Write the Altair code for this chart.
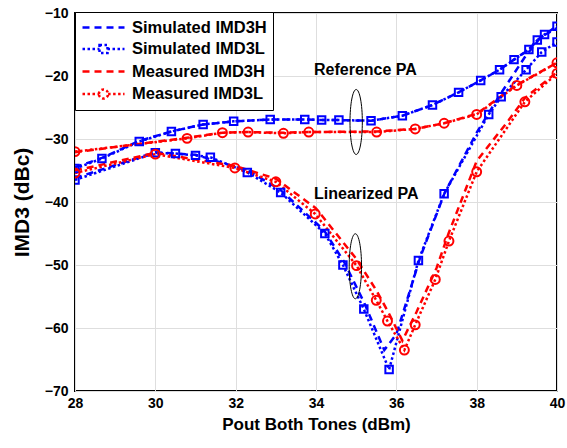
import altair as alt
import pandas as pd

series_names = ["Simulated IMD3H", "Simulated IMD3L", "Measured IMD3H", "Measured IMD3L"]
series_colors = ["#0000ff", "#0000ff", "#ff0000", "#ff0000"]
series_dash = [[7, 5], [2.5, 2.5], [7, 5], [2.5, 2.5]]
# legend glyphs: a long line segment (extending to the right of the unit box) with marker
legend_paths = [
    "M-1,0L4.25,0",
    "M-1,0L1.125,0M2.125,0L4.25,0M1.125,-0.5L2.125,-0.5L2.125,0.5L1.125,0.5Z",
    "M-1,0L4.25,0",
    "M-1,0L1.05,0M2.2,0L4.25,0M1.05,0A0.575,0.575,0,1,1,2.2,0A0.575,0.575,0,1,1,1.05,0Z",
]

# ---- Reference PA ----
ref_sim_x = [28, 28.67, 29.6, 30.4, 31.19, 31.95, 32.86, 33.72, 34.14, 34.57, 35.37,
             36.15, 36.9, 37.55, 38.1, 38.57, 38.93, 39.3, 39.51, 39.69, 40]
ref_sim_l = [-34.7, -33.1, -30.4, -28.8, -27.7, -27.2, -26.9, -26.9, -27.0, -27.0, -27.1,
             -26.3, -24.6, -22.6, -20.7, -19.0, -17.4, -15.8, -14.3, -13.4, -12.1]
ref_sim_h = [-34.5, -33.0, -30.3, -28.8, -27.7, -27.2, -26.9, -26.9, -27.0, -27.0, -27.1,
             -26.3, -24.6, -22.6, -20.7, -19.0, -17.4, -15.8, -14.3, -13.4, -12.1]
ref_meas_x = [28, 30.79, 31.67, 32.31, 33.19, 33.82, 35.51, 36.47, 37.19, 38.0, 39.0, 40]
ref_meas_l = [-32.0, -29.9, -29.0, -28.9, -29.1, -28.9, -28.9, -28.4, -27.5, -26.1, -21.5, -17.9]
ref_meas_h = [-32.1, -29.8, -29.0, -28.9, -29.0, -28.9, -28.8, -28.4, -27.5, -26.0, -21.4, -17.9]

# ---- Linearized PA ----
lin_sim_l_x = [28, 30.0, 30.5, 31.0, 31.37, 32.29, 33.12, 34.22, 34.67, 35.19, 35.82,
               36.55, 37.19, 38.3, 38.61, 39.23, 39.62, 40]
lin_sim_l = [-36.5, -32.2, -32.3, -32.6, -32.9, -35.3, -38.5, -45.0, -50.0, -57.0, -66.6,
             -49.3, -38.7, -26.1, -23.3, -19.0, -16.2, -14.6]
lin_sim_h_x = [28, 30, 31, 32.3, 33.1, 34.2, 34.7, 35.2, 35.7, 36.0, 36.6, 37.2, 38.0,
               38.6, 39.2, 39.6, 40]
lin_sim_h = [-36.2, -32.1, -32.5, -35.0, -38.0, -44.5, -49.5, -56.0, -63.5, -61.0, -48.7,
             -38.6, -29.0, -22.8, -17.0, -13.8, -12.4]
lin_meas_l_x = [28, 30.0, 31.98, 33.0, 33.98, 35.01, 35.5, 35.78, 36.2, 36.47, 36.97,
                37.31, 38.0, 39.2, 40]
lin_meas_l = [-35.4, -32.4, -34.6, -36.8, -41.9, -50.1, -55.6, -58.9, -63.5, -59.5, -52.3,
              -46.2, -35.2, -24.1, -19.6]
lin_meas_h_x = [28, 30, 32, 33, 34, 35, 35.5, 35.8, 36.15, 36.5, 37.0, 37.3, 38.0, 38.8,
                39.2, 40]
lin_meas_h = [-35.0, -32.2, -34.3, -36.3, -41.0, -49.0, -54.0, -57.5, -62.0, -57.5, -50.5,
              -45.0, -33.5, -27.0, -23.5, -19.4]

# annotations
ann_text = ["Reference PA", "Linearized PA"]
ann_x = [33.95, 33.95]
ann_y = [-19.1, -38.7]
ell_x = [35.0, 34.98]
ell_y = [-27.3, -50.2]

x_ticks = [28, 30, 32, 34, 36, 38, 40]
y_ticks = [-70, -60, -50, -40, -30, -20, -10]

# ---- build long table ----
curves = [
    ("ref", "Simulated IMD3H", ref_sim_x, ref_sim_h),
    ("ref", "Simulated IMD3L", ref_sim_x, ref_sim_l),
    ("ref", "Measured IMD3H", ref_meas_x, ref_meas_h),
    ("ref", "Measured IMD3L", ref_meas_x, ref_meas_l),
    ("lin", "Simulated IMD3H", lin_sim_h_x, lin_sim_h),
    ("lin", "Simulated IMD3L", lin_sim_l_x, lin_sim_l),
    ("lin", "Measured IMD3H", lin_meas_h_x, lin_meas_h),
    ("lin", "Measured IMD3L", lin_meas_l_x, lin_meas_l),
]
rows = []
for grp, name, xs, ys in curves:
    for i, (xv, yv) in enumerate(zip(xs, ys)):
        is_l = name.endswith("L")
        rows.append({
            "line": grp + "_" + name, "series": name, "x": xv, "y": yv, "idx": i,
            "marker": ("square" if name.startswith("Sim") else "circle") if is_l else "none",
            "msize": (56 if name.startswith("Sim") else 80),
        })
df = pd.DataFrame(rows)
df_l = df[df["marker"] != "none"]

ann_df = pd.DataFrame({"text": ann_text, "x": ann_x, "y": ann_y})
ell_df = pd.DataFrame({"x": ell_x, "y": ell_y})

FONT = "Liberation Sans"
x_scale = alt.Scale(domain=[28, 40], nice=False, zero=False)
y_scale = alt.Scale(domain=[-70, -10], nice=False, zero=False)
color_scale = alt.Scale(domain=series_names, range=series_colors)
dash_scale = alt.Scale(domain=series_names, range=series_dash)
shape_scale = alt.Scale(domain=series_names, range=legend_paths)

x_enc = alt.X("x:Q", scale=x_scale, axis=alt.Axis(
    values=x_ticks, title="Pout Both Tones (dBm)", labelFont=FONT, labelFontSize=14,
    labelFontWeight="bold", labelColor="black", titleFont=FONT, titleFontSize=17,
    titleFontWeight="bold", titleColor="black", titlePadding=6, labelPadding=5,
    labelFlush=False, grid=True, gridColor="#dedede", gridWidth=1, ticks=False,
    domain=False))
y_enc = alt.Y("y:Q", scale=y_scale, axis=alt.Axis(
    values=y_ticks, title="IMD3 (dBc)", labelFont=FONT, labelFontSize=14,
    labelFontWeight="bold", labelColor="black", titleFont=FONT, titleFontSize=21,
    titleFontWeight="bold", titleColor="black", titlePadding=12, labelPadding=7,
    labelFlush=False, grid=True, gridColor="#dedede", gridWidth=1, ticks=False,
    domain=False))

legend = alt.Legend(
    title=None, orient="none", legendX=0, legendY=-1, symbolSize=256,
    symbolStrokeWidth=2.5, symbolOpacity=1, labelFont=FONT, labelFontSize=16.5,
    labelFontWeight="bold", labelColor="black", strokeColor="black", fillColor="white",
    padding=6, rowPadding=3.5, labelOffset=32, cornerRadius=0, labelLimit=300)

legend_layer = alt.Chart(df).mark_point(filled=False, opacity=0).encode(
    x=x_enc, y=y_enc,
    color=alt.Color("series:N", scale=color_scale, legend=legend),
    shape=alt.Shape("series:N", scale=shape_scale, legend=legend),
    strokeDash=alt.StrokeDash("series:N", scale=dash_scale, legend=legend),
)

lines = alt.Chart(df).mark_line(strokeWidth=2.5, clip=True).encode(
    x="x:Q", y="y:Q",
    color=alt.Color("series:N", scale=color_scale, legend=None),
    strokeDash=alt.StrokeDash("series:N", scale=dash_scale, legend=None),
    detail="line:N",
    order="idx:Q",
)

markers = alt.Chart(df_l).mark_point(filled=False, strokeWidth=2, opacity=1, clip=True).encode(
    x="x:Q", y="y:Q",
    color=alt.Color("series:N", scale=color_scale, legend=None),
    shape=alt.Shape("marker:N", scale=None),
    size=alt.Size("msize:Q", scale=None),
)

texts = alt.Chart(ann_df).mark_text(
    font=FONT, fontSize=16, fontWeight="bold", align="left", baseline="middle", color="black"
).encode(x="x:Q", y="y:Q", text="text:N")

ellipses = alt.Chart(ell_df).mark_point(
    shape="M0,-1A0.19,1,0,1,1,0,1A0.19,1,0,1,1,0,-1Z", size=4225, filled=False,
    color="black", strokeWidth=1, opacity=1
).encode(x="x:Q", y="y:Q")

chart = alt.layer(legend_layer, lines, markers, texts, ellipses).properties(
    width=482, height=378,
    padding={"left": 75, "top": 13, "right": 10, "bottom": 57},
    autosize=alt.AutoSizeParams(type="none"),
    background="white",
).configure_view(stroke="black", strokeWidth=2)

chart.save("out.html", embed_options={"renderer": "svg", "actions": False})
